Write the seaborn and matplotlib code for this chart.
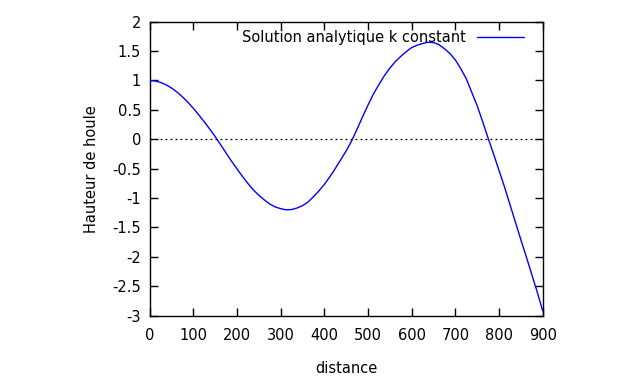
import numpy as np
import pandas as pd
import seaborn as sns
import matplotlib
matplotlib.use("Agg")
import matplotlib.pyplot as plt

# valeurs (pas de 12.5)
distance = [0, 12.5, 25, 37.5, 50, 62.5, 75, 87.5, 100, 112.5, 125, 137.5,
            150, 162.5, 175, 187.5, 200, 212.5, 225, 237.5, 250, 262.5, 275,
            287.5, 300, 312.5, 325, 337.5, 350, 362.5, 375, 387.5, 400,
            412.5, 425, 437.5, 450, 462.5, 475, 487.5, 500, 512.5, 525,
            537.5, 550, 562.5, 575, 587.5, 600, 612.5, 625, 637.5, 650,
            662.5, 675, 687.5, 700, 712.5, 725, 737.5, 750, 762.5, 775,
            787.5, 800, 812.5, 825, 837.5, 850, 862.5, 875, 887.5, 900]
hauteur = [1.00, 0.992, 0.968, 0.929, 0.874, 0.806, 0.725, 0.632, 0.53,
           0.417, 0.30, 0.177, 0.05, -0.09, -0.23, -0.37, -0.50, -0.63,
           -0.75, -0.86, -0.95, -1.03, -1.10, -1.15, -1.18, -1.20, -1.196,
           -1.17, -1.13, -1.07, -0.98, -0.88, -0.77, -0.64, -0.50, -0.35,
           -0.20, -0.03, 0.17, 0.38, 0.58, 0.77, 0.93, 1.08, 1.21, 1.32,
           1.41, 1.49, 1.56, 1.60, 1.63, 1.65, 1.645, 1.61, 1.54, 1.46,
           1.35, 1.20, 1.03, 0.80, 0.57, 0.30, 0.02, -0.25, -0.53, -0.81,
           -1.11, -1.41, -1.71, -2.00, -2.30, -2.60, -2.92]

xticks = list(range(0, 1000, 100))
yticks = [-3, -2.5, -2, -1.5, -1, -0.5, 0, 0.5, 1, 1.5, 2]

sns.set_style("ticks")
plt.rcParams['font.family'] = ['DejaVu Sans']
plt.rcParams['axes.unicode_minus'] = False
plt.rcParams['text.color'] = 'black'
fs = 10.5

df = pd.DataFrame({"distance": distance, "hauteur": hauteur})

fig = plt.figure(figsize=(6.4, 3.84), dpi=100)
ax = fig.add_axes([0.2336, 0.178, 0.848 - 0.2336, 0.9435 - 0.178])

ax.axhline(0, color="black", linestyle=(0, (1.5, 2.5)), linewidth=0.9, zorder=1)
sns.lineplot(data=df, x="distance", y="hauteur", ax=ax, color="#0000ff",
             linewidth=1.0, label="Solution analytique k constant", zorder=3)

ax.set_xlim(0, 900)
ax.set_ylim(-3, 2)
ax.set_xticks(xticks)
ax.set_yticks(yticks)
ax.set_xticklabels([str(t) for t in xticks])
ax.set_yticklabels(["%g" % t for t in yticks])
ax.tick_params(direction="in", top=True, right=True, length=6, width=1,
               colors="black", labelcolor="black", labelsize=fs, pad=6)
ax.tick_params(axis="x", pad=9)
for s in ax.spines.values():
    s.set_visible(True)
    s.set_linewidth(1.0)
    s.set_color("black")

ax.set_xlabel("distance", fontsize=fs, labelpad=13, color="black")
ax.set_ylabel("Hauteur de houle", fontsize=fs, labelpad=10, color="black")

leg = ax.legend(loc="upper right", frameon=False, markerfirst=False,
                handlelength=3.2, borderaxespad=0.2, fontsize=fs,
                bbox_to_anchor=(0.975, 1.0))
for t in leg.get_texts():
    t.set_color("black")

fig.savefig("out.png", dpi=100)
